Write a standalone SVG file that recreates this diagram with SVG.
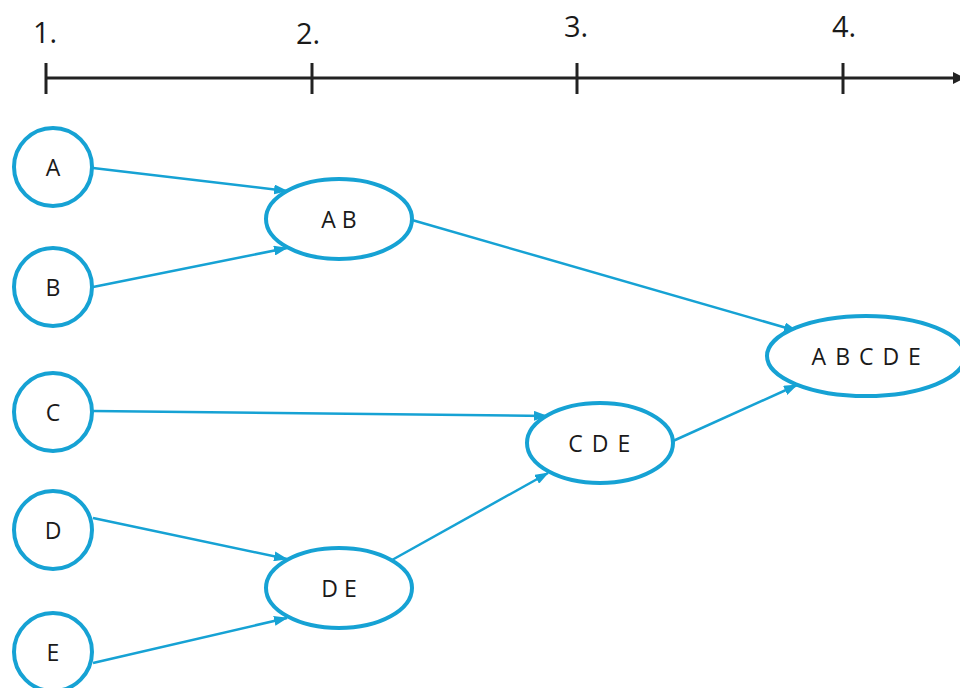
<svg xmlns="http://www.w3.org/2000/svg" width="960" height="688" viewBox="0 0 960 688">
<style>
.n{fill:#fff;stroke:#16a2d4;stroke-width:4}
.t{font-family:"Open Sans","Liberation Sans",sans-serif;font-size:23px;fill:#1a1a1a;text-anchor:middle}
.ax{font-family:"Open Sans","Liberation Sans",sans-serif;font-size:29px;fill:#1a1a1a}
.c{stroke:#16a2d4;stroke-width:2.5;fill:none;marker-end:url(#ah)}
.axl{stroke:#222;stroke-width:3;fill:none}
</style>
<defs>
<marker id="ah" viewBox="0 0 14 10" refX="13" refY="5" markerWidth="14" markerHeight="10" markerUnits="userSpaceOnUse" orient="auto">
<path d="M0,0 L14,5 L0,10 z" fill="#16a2d4"/>
</marker>
<marker id="axh" viewBox="0 0 12 12" refX="11" refY="6" markerWidth="12" markerHeight="12" markerUnits="userSpaceOnUse" orient="auto">
<path d="M0,0 L12,6 L0,12 z" fill="#222"/>
</marker>
</defs>
<g id="axis">
<line class="axl" x1="46" y1="78" x2="964" y2="78" marker-end="url(#axh)"/>
<line class="axl" x1="46" y1="63" x2="46" y2="94"/>
<line class="axl" x1="312" y1="63" x2="312" y2="94"/>
<line class="axl" x1="577" y1="63" x2="577" y2="94"/>
<line class="axl" x1="843" y1="63" x2="843" y2="94"/>
<text class="ax" x="33" y="43">1.</text>
<text class="ax" x="296" y="44">2.</text>
<text class="ax" x="564" y="37">3.</text>
<text class="ax" x="832" y="37">4.</text>
</g>
<g id="connectors">
<line class="c" x1="93" y1="168" x2="287" y2="191"/>
<line class="c" x1="93" y1="287" x2="287" y2="248"/>
<line class="c" x1="412" y1="220" x2="797" y2="331"/>
<line class="c" x1="93" y1="411" x2="547" y2="416"/>
<line class="c" x1="93" y1="518" x2="287" y2="559"/>
<line class="c" x1="93" y1="663" x2="287" y2="618"/>
<line class="c" x1="392" y1="560" x2="548" y2="473"/>
<line class="c" x1="673" y1="441" x2="797" y2="385"/>
</g>
<g id="nA"><circle class="n" cx="53" cy="167" r="39"/><text class="t" x="53" y="176">A</text></g>
<g id="nB"><circle class="n" cx="53" cy="287" r="39"/><text class="t" x="53" y="296">B</text></g>
<g id="nC"><circle class="n" cx="53" cy="412" r="39"/><text class="t" x="53" y="421">C</text></g>
<g id="nD"><circle class="n" cx="53" cy="530" r="39"/><text class="t" x="53" y="539">D</text></g>
<g id="nE"><circle class="n" cx="53" cy="652" r="39"/><text class="t" x="53" y="661">E</text></g>
<g id="nAB"><ellipse class="n" cx="339" cy="219" rx="73" ry="40"/><text class="t" x="339" y="228">A B</text></g>
<g id="nDE"><ellipse class="n" cx="339" cy="588" rx="73" ry="40"/><text class="t" x="339" y="597">D E</text></g>
<g id="nCDE"><ellipse class="n" cx="600" cy="443" rx="73" ry="40"/><text class="t" x="600" y="452" letter-spacing="1.5">C D E</text></g>
<g id="nABCDE"><ellipse class="n" cx="866" cy="356" rx="99" ry="40"/><text class="t" x="867" y="365" letter-spacing="1.5">A B C D E</text></g>
</svg>
